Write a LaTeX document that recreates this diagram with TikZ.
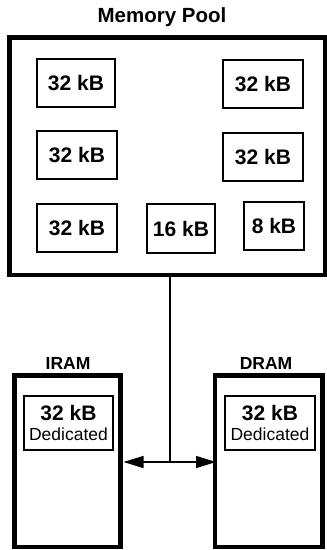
\documentclass[tikz,border=0pt]{standalone}
\usepackage{fontspec}
\setmainfont{Liberation Sans}
\usetikzlibrary{arrows.meta}
\tikzset{
  thickbox/.style={draw=black, line width=4.5pt, inner sep=0pt, outer sep=0pt, rectangle},
  blockbox/.style={draw=black, line width=1.3pt, inner sep=0pt, rectangle,
    font=\fontsize{21}{23}\selectfont\bfseries},
  dedbox/.style={draw=black, line width=1.3pt, inner sep=0pt, rectangle, align=center,
    font=\fontsize{17.5}{20}\selectfont},
  title/.style={font=\fontsize{20.5}{22}\selectfont\bfseries, inner sep=0pt},
  memtitle/.style={font=\fontsize{17.5}{20}\selectfont\bfseries, inner sep=0pt},
  link/.style={draw=black, line width=1.4pt},
  bus/.style={link, {Triangle[length=20pt,width=12pt]}-{Triangle[length=20pt,width=12pt]}}
}
\begin{document}
\begin{tikzpicture}[x=1pt,y=-1pt]
\useasboundingbox (0,0) rectangle (327,550);
% Memory pool
\node[title] (pooltitle) at (162,17) {Memory Pool};
\node[thickbox, minimum width=315.5pt, minimum height=237.5pt] (pool) at (167.25,156.25) {};
\node[blockbox, minimum width=78pt, minimum height=48pt] (a) at (76,83) {32 kB};
\node[blockbox, minimum width=80pt, minimum height=48pt] (b) at (263,84) {32 kB};
\node[blockbox, minimum width=80pt, minimum height=48pt] (c) at (77,155) {32 kB};
\node[blockbox, minimum width=80pt, minimum height=48pt] (d) at (263,157) {32 kB};
\node[blockbox, minimum width=80pt, minimum height=48pt] (e) at (77,228) {32 kB};
\node[blockbox, minimum width=68pt, minimum height=49pt] (f) at (181,228.5) {16 kB};
\node[blockbox, minimum width=60pt, minimum height=48pt] (g) at (274,226) {8 kB};
% IRAM / DRAM
\node[memtitle] (iramtitle) at (68,363) {IRAM};
\node[memtitle] (dramtitle) at (266,363) {DRAM};
\node[thickbox, minimum width=106pt, minimum height=171.5pt] (iram) at (67.5,461.25) {};
\node[thickbox, minimum width=107.5pt, minimum height=171.5pt] (dram) at (268.75,461.25) {};
\node[dedbox, minimum width=89pt, minimum height=54pt] (iramded) at (68.5,423)
  {{\fontsize{21}{20}\selectfont\bfseries 32 kB}\\Dedicated};
\node[dedbox, minimum width=90pt, minimum height=54pt] (dramded) at (270,423)
  {{\fontsize{21}{20}\selectfont\bfseries 32 kB}\\Dedicated};
% connector
\coordinate (j) at (170,462);
\draw[link] (pool.south -| j) -- (j);
\draw[bus, shorten <=3pt, shorten >=-1pt] (iram.east |- j) -- (dram.west |- j);
\end{tikzpicture}
\end{document}
